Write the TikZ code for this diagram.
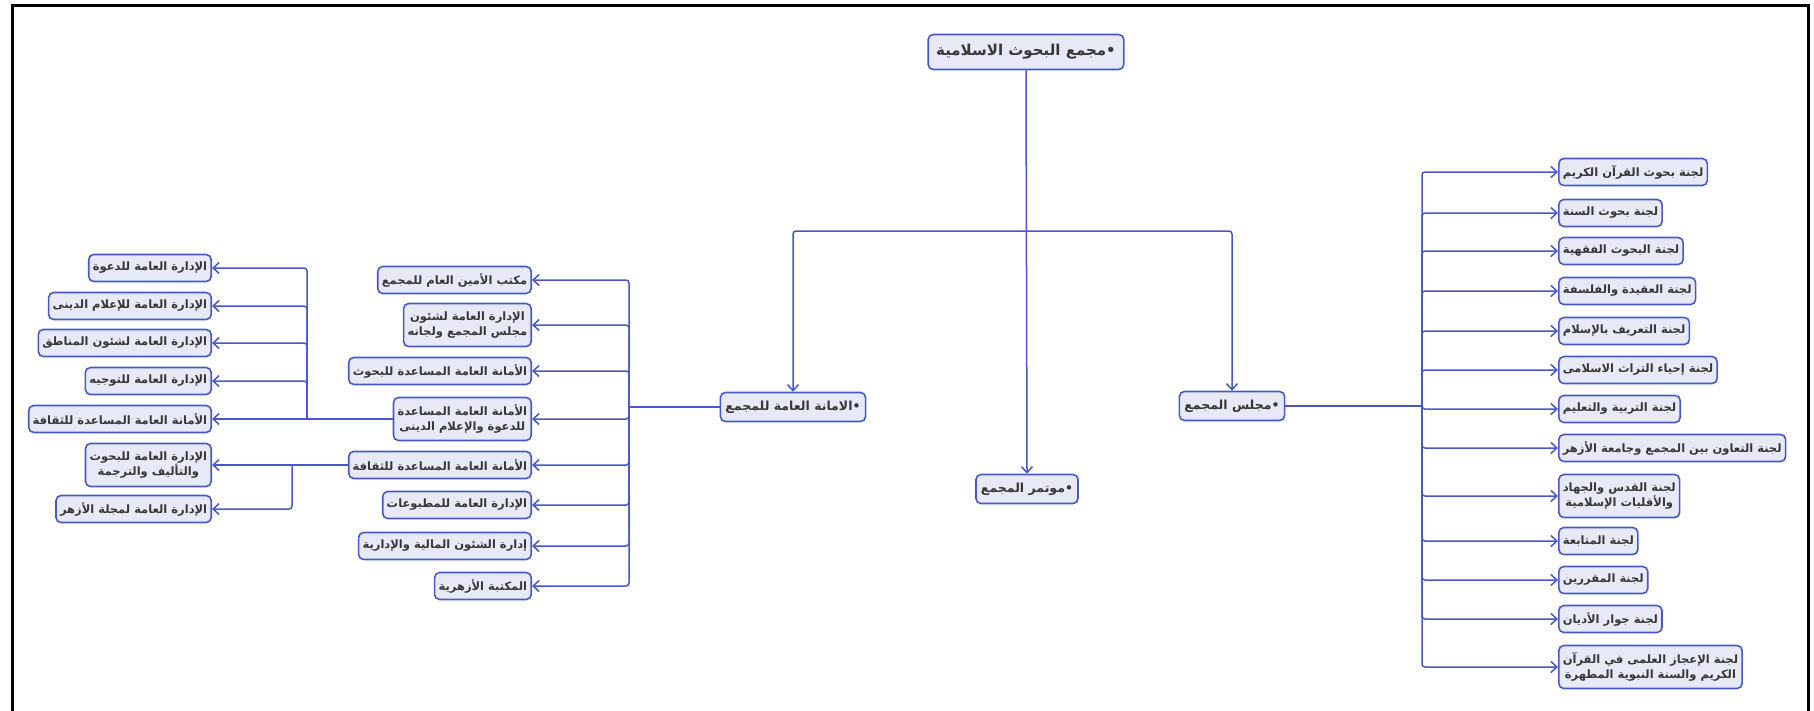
\documentclass[tikz,border=0pt]{standalone}
\usepackage{fontspec}
\usetikzlibrary{arrows.meta}
\TeXXeTstate=1
\newfontfamily\arabicfont[Script=Arabic]{DejaVu Sans}
\definecolor{lnblue}{RGB}{72,88,200}
\definecolor{boxfill}{RGB}{232,233,246}
\definecolor{txtgray}{RGB}{55,55,55}
\newcommand{\artx}[1]{\beginR #1\endR}
\tikzset{
 box/.style={draw=lnblue, fill=boxfill, line width=1.6, rounded corners=5, text=txtgray,
   font=\arabicfont\bfseries\fontsize{11.5}{15.5}\selectfont, inner xsep=4, inner ysep=0,
   minimum height=27, align=center},
 twobox/.style={box, minimum height=43},
 bigbox/.style={box, font=\arabicfont\bfseries\fontsize{12.5}{15}\selectfont, minimum height=29, inner xsep=5},
 arr/.style={draw=lnblue, line width=1.5, rounded corners=3, -{Straight Barb[length=6,width=11,line width=1.5]}},
 ln/.style={draw=lnblue, line width=1.5, rounded corners=3},
 frameline/.style={draw=black, line width=3},
}
\begin{document}
\begin{tikzpicture}[x=1pt,y=-1pt]
\useasboundingbox (0,0) rectangle (1814,710);
\fill[white] (0,0) rectangle (1814,710);
\draw[frameline] (12,715) -- (12,5) -- (1808,5) -- (1808,715);

% main nodes
\node[bigbox, font=\arabicfont\bfseries\fontsize{15}{17}\selectfont, minimum height=35, inner xsep=8] (top) at (1026,52) {\artx{•مجمع البحوث الاسلامية}};
\node[bigbox] (amana) at (793,407) {\artx{•الامانة العامة للمجمع}};
\node[bigbox] (majlis) at (1232,406) {\artx{•مجلس المجمع}};
\node[bigbox] (mutamar) at (1027,489) {\artx{•موتمر المجمع}};

% middle column
\node[box, anchor=east] (m1) at (532,280) {\artx{مكتب الأمين العام للمجمع}};
\node[twobox, anchor=east] (m2) at (532,325) {\artx{الإدارة العامة لشئون}\\\artx{مجلس المجمع ولجانه}};
\node[box, anchor=east] (m3) at (532,371) {\artx{الأمانة العامة المساعدة للبحوث}};
\node[twobox, anchor=east] (m4) at (532,419) {\artx{الأمانة العامة المساعدة}\\\artx{للدعوة والإعلام الدينى}};
\node[box, anchor=east] (m5) at (532,465) {\artx{الأمانة العامة المساعدة للثقافة}};
\node[box, anchor=east] (m6) at (532,505) {\artx{الإدارة العامة للمطبوعات}};
\node[box, anchor=east] (m7) at (532,546) {\artx{إدارة الشئون المالية والإدارية}};
\node[box, anchor=east] (m8) at (532,586) {\artx{المكتبة الأزهرية}};

% far left column
\node[box, anchor=east] (a1) at (212,268) {\artx{الإدارة العامة للدعوة}};
\node[box, anchor=east] (a2) at (212,306) {\artx{الإدارة العامة للإعلام الدينى}};
\node[box, anchor=east] (a3) at (212,343) {\artx{الإدارة العامة لشئون المناطق}};
\node[box, anchor=east] (a4) at (212,381) {\artx{الإدارة العامة للتوجيه}};
\node[box, anchor=east] (a5) at (212,419) {\artx{الأمانة العامة المساعدة للثقافة}};
\node[twobox, anchor=east] (b1) at (212,465) {\artx{الإدارة العامة للبحوث}\\\artx{والتأليف والترجمة}};
\node[box, anchor=east] (b2) at (212,509) {\artx{الإدارة العامة لمجلة الأزهر}};

% right column
\node[box, anchor=west] (r1) at (1558,172) {\artx{لجنة بحوث القرآن الكريم}};
\node[box, anchor=west] (r2) at (1558,213) {\artx{لجنة بحوث السنة}};
\node[box, anchor=west] (r3) at (1558,251) {\artx{لجنة البحوث الفقهية}};
\node[box, anchor=west] (r4) at (1558,291) {\artx{لجنة العقيدة والفلسفة}};
\node[box, anchor=west] (r5) at (1558,331) {\artx{لجنة التعريف بالإسلام}};
\node[box, anchor=west] (r6) at (1558,370) {\artx{لجنة إحياء التراث الاسلامى}};
\node[box, anchor=west] (r7) at (1558,409) {\artx{لجنة التربية والتعليم}};
\node[box, anchor=west] (r8) at (1558,448) {\artx{لجنة التعاون بين المجمع وجامعة الأزهر}};
\node[twobox, anchor=west] (r9) at (1558,496) {\artx{لجنة القدس والجهاد}\\\artx{والأقليات الإسلامية}};
\node[box, anchor=west] (r10) at (1558,541) {\artx{لجنة المتابعة}};
\node[box, anchor=west] (r11) at (1558,580) {\artx{لجنة المقررين}};
\node[box, anchor=west] (r12) at (1558,619) {\artx{لجنة جوار الأديان}};
\node[twobox, anchor=west] (r13) at (1558,667) {\artx{لجنة الإعجاز العلمى في القرآن}\\\artx{الكريم والسنة النبوية المطهرة}};

% top connectors
\coordinate (tj) at (1026,231);
\draw[arr] (top.south) -- (mutamar.north);
\draw[arr] (tj) -| (amana.north);
\draw[arr] (tj) -| (majlis.north);

% middle bus
\coordinate (mb) at (629,407);
\draw[ln] (amana.west) -- (mb);
\foreach \n in {m1,m2,m3,m4,m5,m6,m7,m8} \draw[arr] (mb) |- (\n.east);

% far-left bus
\coordinate (lb) at (307,419);
\draw[arr] (m4.west) -- (a5.east);
\foreach \n in {a1,a2,a3,a4} \draw[arr] (lb) |- (\n.east);
\coordinate (lb2) at (292,465);
\draw[arr] (m5.west) -- (b1.east);
\draw[arr] (lb2) |- (b2.east);

% right bus
\coordinate (rb) at (1422,406);
\draw[ln] (majlis.east) -- (rb);
\foreach \n in {r1,r2,r3,r4,r5,r6,r7,r8,r9,r10,r11,r12,r13} \draw[arr] (rb) |- (\n.west);
\end{tikzpicture}
\end{document}
